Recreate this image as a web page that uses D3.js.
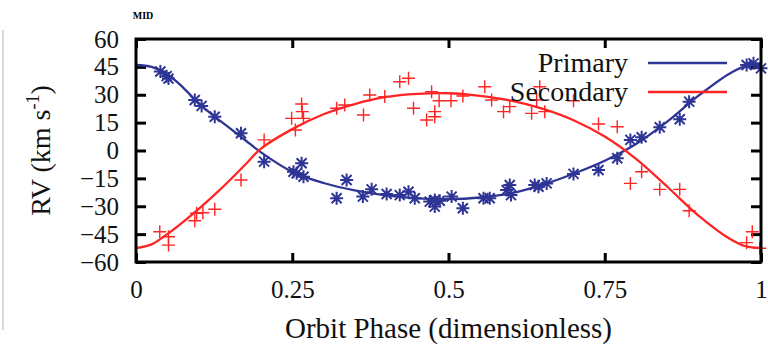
<!DOCTYPE html>
<html>
<head>
<meta charset="utf-8">
<script src="https://cdn.jsdelivr.net/npm/d3@7"></script>
<style>
  html, body { margin: 0; padding: 0; background: #fff; }
  svg { display: block; }
</style>
</head>
<body>
<div class="graph"></div>
<script>
// observed radial velocities (phase, km/s)
var primaryPhase = [0.039, 0.049, 0.052, 0.094, 0.105, 0.126, 0.168, 0.205, 0.252, 0.257, 0.265, 0.268,
  0.321, 0.337, 0.363, 0.377, 0.401, 0.422, 0.436, 0.446, 0.470, 0.478, 0.478, 0.486, 0.505, 0.523,
  0.556, 0.566, 0.593, 0.598, 0.600, 0.638, 0.644, 0.657, 0.700, 0.740, 0.770, 0.791, 0.809, 0.838,
  0.870, 0.885, 0.977, 0.988, 1.000];
var primaryRV = [42.5, 40.0, 38.7, 27.2, 24.0, 18.2, 9.3, -6.0, -11.4, -12.3, -6.9, -14.1,
  -25.7, -15.9, -24.8, -20.9, -23.4, -24.0, -22.2, -25.7, -27.5, -26.6, -30.2, -27.0, -24.8, -31.1,
  -25.7, -25.7, -21.3, -18.6, -24.0, -18.6, -19.5, -17.7, -12.6, -10.5, -4.2, 5.7, 7.1, 12.5,
  16.8, 26.3, 46.0, 46.9, 44.2];

var secondaryPhase = [0.038, 0.052, 0.052, 0.094, 0.097, 0.107, 0.126, 0.168, 0.205, 0.249, 0.255, 0.265,
  0.266, 0.268, 0.321, 0.334, 0.364, 0.374, 0.398, 0.422, 0.436, 0.444, 0.465, 0.473, 0.478, 0.478,
  0.485, 0.504, 0.523, 0.558, 0.569, 0.588, 0.598, 0.633, 0.641, 0.646, 0.654, 0.700, 0.740, 0.770,
  0.791, 0.809, 0.838, 0.870, 0.885, 0.977, 0.986, 0.998];
var secondaryRV = [-43.7, -46.4, -50.9, -37.8, -33.8, -33.5, -31.6, -15.9, 5.7, 17.3, 11.0, 25.0,
  20.9, 17.3, 22.7, 24.5, 19.1, 29.9, 29.0, 37.0, 38.9, 22.7, 16.4, 31.6, 20.9, 18.2,
  26.8, 26.8, 29.3, 34.3, 27.2, 20.9, 23.6, 20.0, 27.2, 34.3, 20.9, 26.8, 14.3, 12.8,
  -17.7, -11.4, -20.9, -20.9, -32.4, -49.6, -43.7, -52.6];

// fitted orbit curves
var modelPhase = [0, 0.025, 0.05, 0.075, 0.1, 0.125, 0.15, 0.175, 0.2, 0.25, 0.3, 0.35, 0.4, 0.45,
  0.5, 0.55, 0.6, 0.65, 0.7, 0.75, 0.8, 0.85, 0.9, 0.95, 0.975, 1];
var primaryModel = [46, 45, 41, 34, 25.5, 18.5, 12, 5.5, -1, -11.5, -17.5, -21.5, -24.2, -25.8,
  -26.2, -25.3, -23, -18.5, -12.5, -5.5, 3.5, 15.5, 29.5, 41.5, 45.3, 46];
var secondaryModel = [-52.5, -50.5, -45, -38.5, -31.5, -24, -16, -7.5, 1, 11.5, 19.5, 25, 28.8, 30.5,
  30.8, 29.4, 26.8, 22.5, 16.3, 7.5, -4.5, -19.5, -35, -47.5, -51.5, -52.5];

var xTicks = [0, 0.25, 0.5, 0.75, 1];
var xTickLabels = ["0", "0.25", "0.5", "0.75", "1"];
var yTicks = [-60, -45, -30, -15, 0, 15, 30, 45, 60];

var blue = "#2e3595", red = "#ff2424";
var serif = "'Liberation Serif', 'DejaVu Serif', 'Times New Roman', serif";
var W = 768, H = 346;
var margin = { top: 39, right: 7, bottom: 84, left: 136 };

var svg = d3.select(".graph").append("svg")
  .attr("width", W)
  .attr("height", H)
  .style("font-family", serif);

var x = d3.scaleLinear().domain([0, 1]).range([margin.left, W - margin.right]);
var y = d3.scaleLinear().domain([-60, 60]).range([H - margin.bottom, margin.top]);

// page-edge remnants of the scan
svg.append("line").attr("x1", 3).attr("x2", 3).attr("y1", 30).attr("y2", 330)
  .attr("stroke", "#ccc").attr("stroke-width", 1.5);
svg.append("text").attr("x", 143).attr("y", 19).attr("text-anchor", "middle")
  .style("font-family", serif).style("font-size", "10px").style("font-weight", "bold").text("MID");

var plot = svg.append("g");
plot.append("defs").append("clipPath").attr("id", "clip")
  .append("rect")
  .attr("x", x(0)).attr("y", y(60))
  .attr("width", x(1) - x(0)).attr("height", y(-60) - y(60));

// axes, ticks pointing inward like gnuplot
function styleAxis(g) {
  g.attr("font-family", null).attr("font-size", null);
  g.select(".domain").remove();
  g.selectAll(".tick line").attr("stroke", "#000").attr("stroke-width", 3);
  g.selectAll(".tick text").style("font-family", serif).style("font-size", "25px").attr("fill", "#111");
}

plot.append("g")
  .attr("transform", "translate(" + x(0) + ",0)")
  .call(d3.axisLeft(y).tickValues(yTicks).tickSizeInner(-10).tickSizeOuter(0).tickPadding(17)
    .tickFormat(d3.format("d")))
  .call(styleAxis);

plot.append("g")
  .attr("transform", "translate(" + x(1) + ",0)")
  .call(d3.axisRight(y).tickValues(yTicks).tickSizeInner(-10).tickSizeOuter(0).tickFormat(""))
  .call(styleAxis);

plot.append("g")
  .attr("transform", "translate(0," + y(-60) + ")")
  .call(d3.axisBottom(x).tickValues(xTicks).tickSizeInner(-9).tickSizeOuter(0).tickPadding(18)
    .tickFormat(function(d, i) { return xTickLabels[i]; }))
  .call(styleAxis);

plot.append("g")
  .attr("transform", "translate(0," + y(60) + ")")
  .call(d3.axisTop(x).tickValues(xTicks).tickSizeInner(-9).tickSizeOuter(0).tickFormat(""))
  .call(styleAxis);

// model curves
var line = d3.line()
  .x(function(d) { return x(d[0]); })
  .y(function(d) { return y(d[1]); })
  .curve(d3.curveCatmullRom.alpha(0.5));

var curves = plot.append("g").attr("clip-path", "url(#clip)");
curves.append("path")
  .datum(d3.zip(modelPhase, primaryModel))
  .attr("d", line).attr("fill", "none").attr("stroke", blue).attr("stroke-width", 2.3);
curves.append("path")
  .datum(d3.zip(modelPhase, secondaryModel))
  .attr("d", line).attr("fill", "none").attr("stroke", red).attr("stroke-width", 2.3);

// markers
var s = 6.5, d = 5;
var starPath = "M" + -s + ",0H" + s + "M0," + -s + "V" + s +
  "M" + -d + "," + -d + "L" + d + "," + d + "M" + -d + "," + d + "L" + d + "," + -d;
var plusPath = "M" + -s + ",0H" + s + "M0," + -s + "V" + s;

plot.append("g").selectAll("path")
  .data(d3.zip(primaryPhase, primaryRV))
  .join("path")
  .attr("transform", function(p) { return "translate(" + x(p[0]) + "," + y(p[1]) + ")"; })
  .attr("d", starPath)
  .attr("fill", "none").attr("stroke", blue).attr("stroke-width", 2);

plot.append("g").selectAll("path")
  .data(d3.zip(secondaryPhase, secondaryRV))
  .join("path")
  .attr("transform", function(p) { return "translate(" + x(p[0]) + "," + y(p[1]) + ")"; })
  .attr("d", plusPath)
  .attr("fill", "none").attr("stroke", red).attr("stroke-width", 1.4);

// legend
var legend = plot.append("g");
[["Primary", blue], ["Secondary", red]].forEach(function(e, i) {
  var ly = 63 + i * 29;
  legend.append("text").attr("x", 628).attr("y", ly + 9).attr("text-anchor", "end")
    .style("font-family", serif).style("font-size", "28px").attr("fill", "#111").text(e[0]);
  legend.append("line").attr("x1", 648).attr("x2", 727).attr("y1", ly).attr("y2", ly)
    .attr("stroke", e[1]).attr("stroke-width", 2.3);
});

// frame
plot.append("rect")
  .attr("x", x(0)).attr("y", y(60))
  .attr("width", x(1) - x(0)).attr("height", y(-60) - y(60))
  .attr("fill", "none").attr("stroke", "#000").attr("stroke-width", 3);

// axis titles
svg.append("text")
  .attr("x", (x(0) + x(1)) / 2).attr("y", 338)
  .attr("text-anchor", "middle")
  .style("font-family", serif).style("font-size", "29px").attr("fill", "#111")
  .text("Orbit Phase (dimensionless)");

var yt = svg.append("text")
  .attr("transform", "translate(50," + ((y(60) + y(-60)) / 2) + ") rotate(-90)")
  .attr("text-anchor", "middle")
  .style("font-family", serif).style("font-size", "28px").attr("fill", "#111");
yt.append("tspan").text("RV (km s");
yt.append("tspan").attr("dy", -11).style("font-size", "18px").text("-1");
yt.append("tspan").attr("dy", 11).text(")");
</script>
</body>
</html>
